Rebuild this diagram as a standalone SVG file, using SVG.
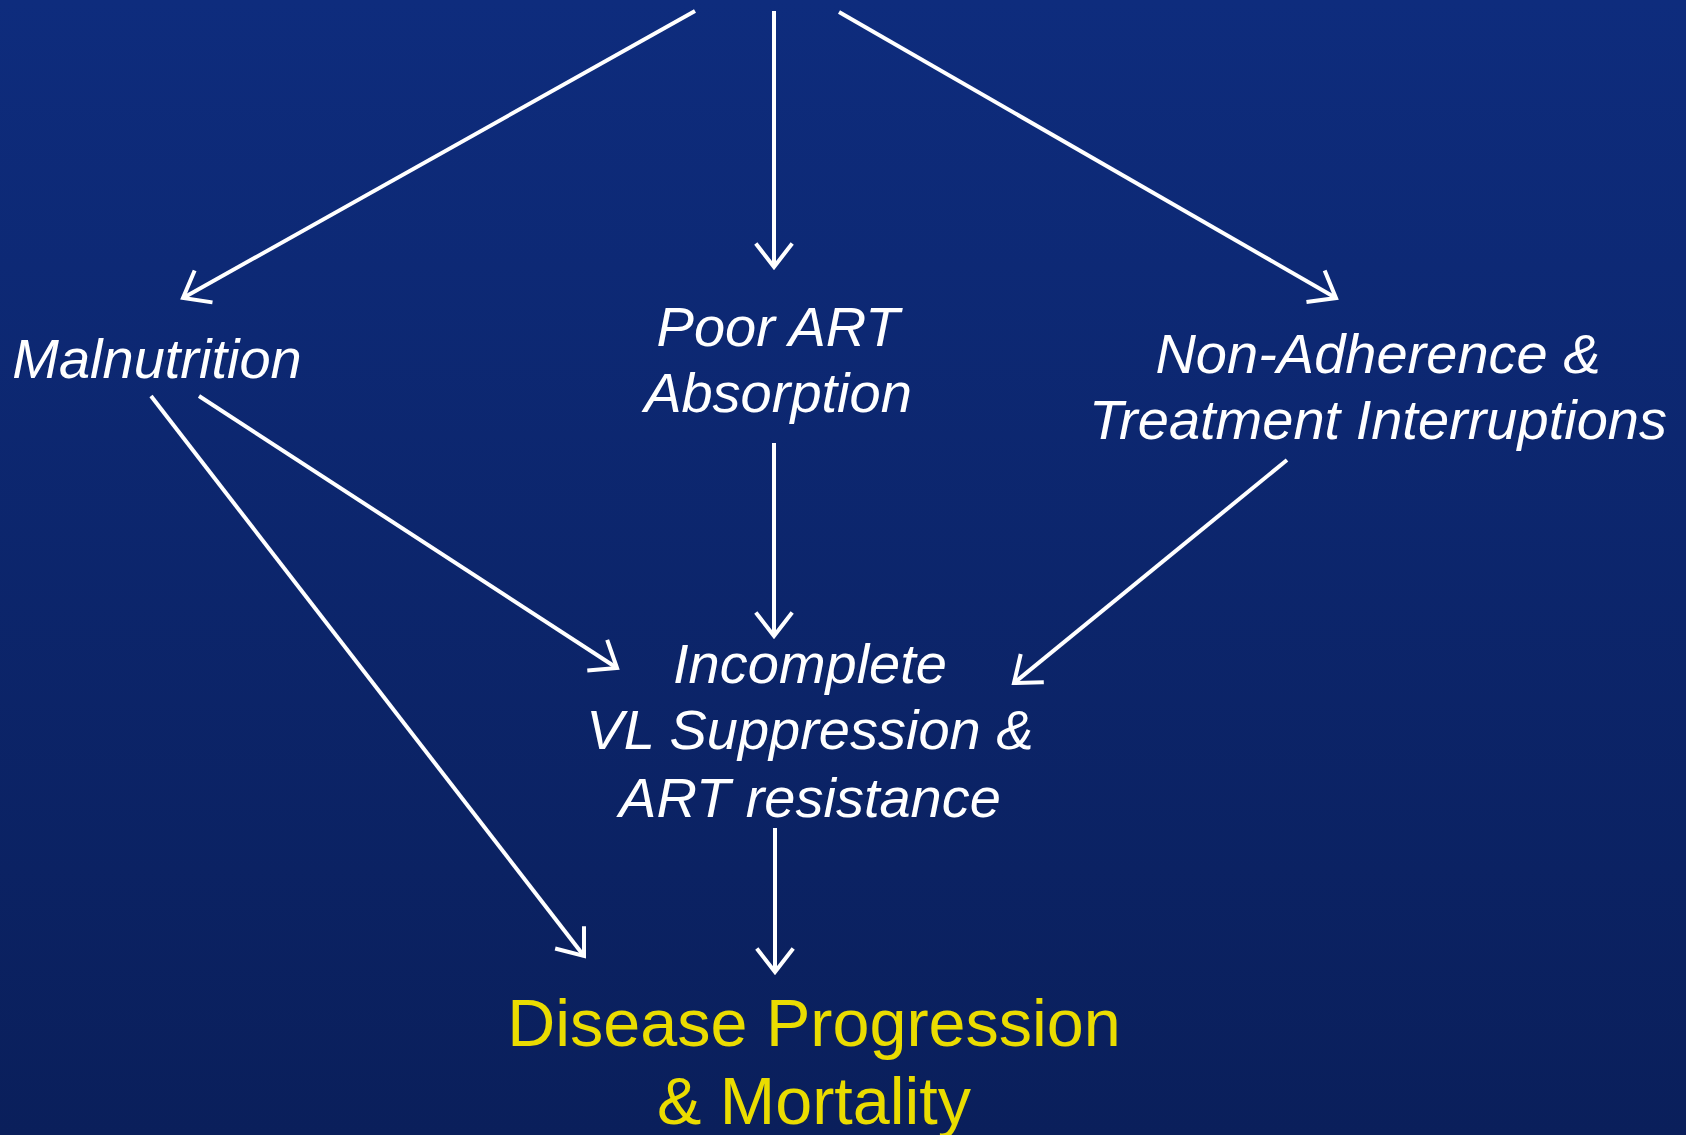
<svg xmlns="http://www.w3.org/2000/svg" width="1686" height="1135" viewBox="0 0 1686 1135">
  <defs>
    <linearGradient id="bg" x1="0" y1="0" x2="0" y2="1">
      <stop offset="0" stop-color="#0e2c7d"/>
      <stop offset="1" stop-color="#0a1f5b"/>
    </linearGradient>
    <marker id="arr" markerUnits="userSpaceOnUse" markerWidth="40" markerHeight="40" viewBox="-30 -20 40 40" refX="0" refY="0" orient="auto" overflow="visible">
      <path d="M-22,-17 L0,0 L-22,17" fill="none" stroke="#ffffff" stroke-width="4" stroke-linejoin="miter" stroke-linecap="square"/>
    </marker>
  </defs>
  <style>
    .lbl { font-family: "Liberation Sans", Arial, sans-serif; font-style: italic; font-size: 56px; fill: #ffffff; text-anchor: middle; }
    .out { font-family: "Liberation Sans", Arial, sans-serif; font-size: 66.5px; fill: #eadc00; text-anchor: middle; }
    .conn line { stroke: #ffffff; stroke-width: 4; marker-end: url(#arr); }
  </style>
  <rect x="0" y="0" width="1686" height="1135" fill="url(#bg)"/>

  <g id="connectors" class="conn">
    <line x1="695" y1="11" x2="183" y2="298"/>
    <line x1="774" y1="11" x2="774" y2="267"/>
    <line x1="839" y1="12" x2="1336" y2="298"/>
    <line x1="774" y1="443" x2="774" y2="636"/>
    <line x1="199" y1="396" x2="617" y2="668"/>
    <line x1="151" y1="396" x2="584" y2="956"/>
    <line x1="1287" y1="460" x2="1014" y2="683"/>
    <line x1="775" y1="828" x2="775" y2="972"/>
  </g>

  <g id="malnutrition">
    <text class="lbl" x="157" y="378">Malnutrition</text>
  </g>
  <g id="poor-art-absorption">
    <text class="lbl" x="778" y="346">Poor ART</text>
    <text class="lbl" x="778" y="412">Absorption</text>
  </g>
  <g id="non-adherence">
    <text class="lbl" x="1378" y="373">Non-Adherence &amp;</text>
    <text class="lbl" x="1378" y="439">Treatment Interruptions</text>
  </g>
  <g id="incomplete-vl">
    <text class="lbl" x="810" y="683">Incomplete</text>
    <text class="lbl" x="810" y="749">VL Suppression &amp;</text>
    <text class="lbl" x="810" y="817">ART resistance</text>
  </g>
  <g id="disease-progression">
    <text class="out" x="814" y="1046">Disease Progression</text>
    <text class="out" x="814" y="1124">&amp; Mortality</text>
  </g>
</svg>
